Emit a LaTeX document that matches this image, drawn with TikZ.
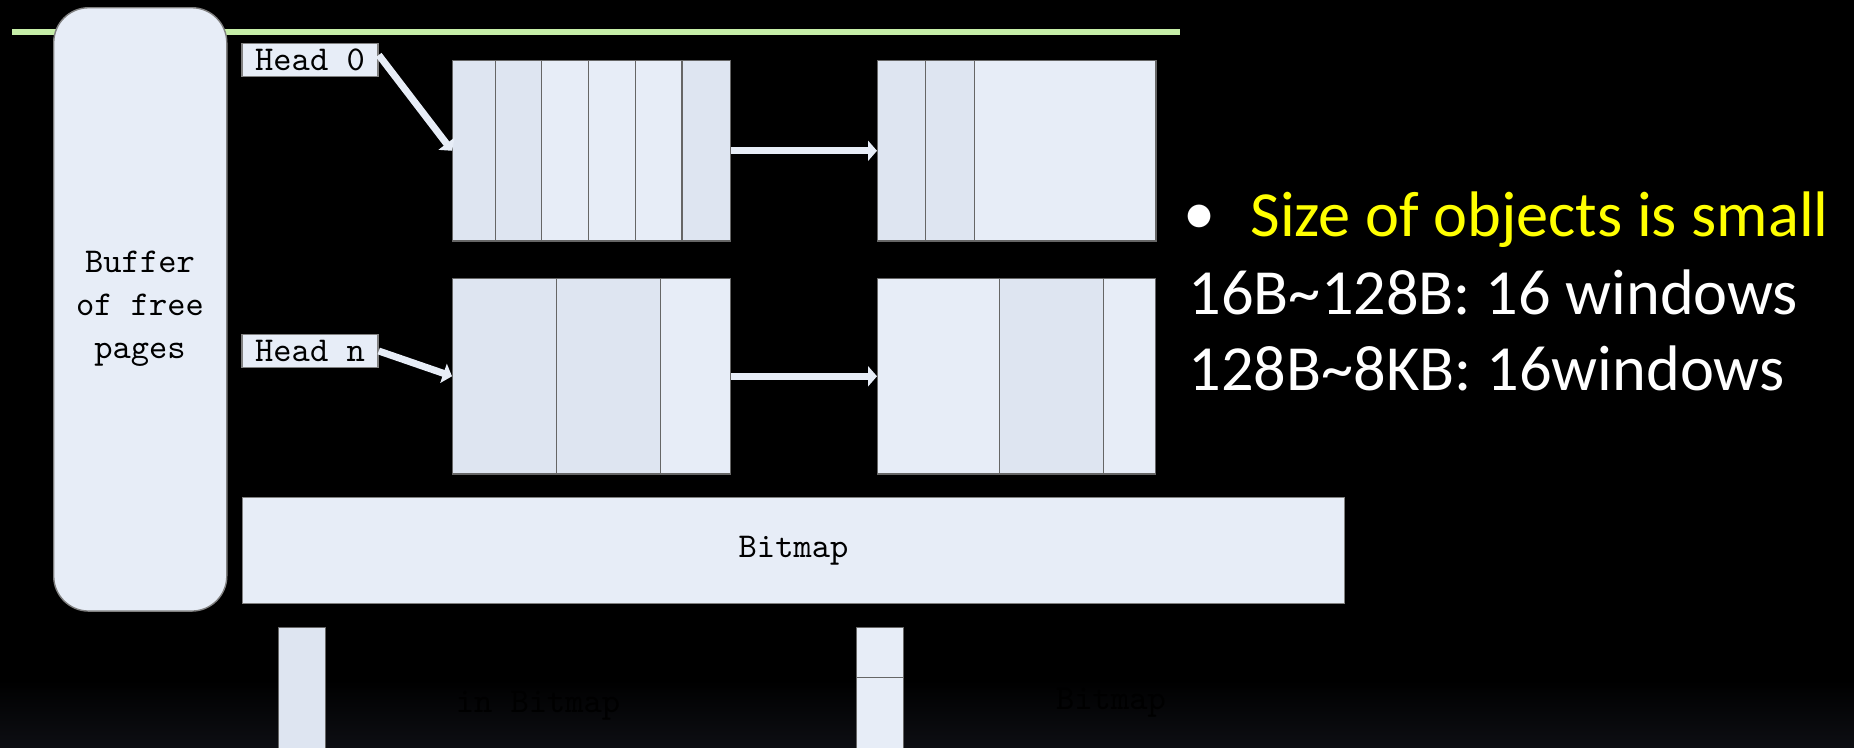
\documentclass[tikz,border=0pt]{standalone}
\usepackage{fontspec}
\usepackage{xcolor}
\usepackage{tikz}
\usetikzlibrary{arrows.meta,positioning}
\newfontfamily\slidefont{Carlito}
\definecolor{pagefill}{RGB}{231,237,247}
\definecolor{usedfill}{RGB}{222,229,241}
\definecolor{rulegreen}{RGB}{198,238,168}
\definecolor{bottomgray}{RGB}{13,14,19}
\definecolor{slideyellow}{RGB}{255,255,0}

\begin{document}
\begin{tikzpicture}[x=0.01cm,y=-0.01cm,
        cell/.style={draw=black!60,fill=pagefill,inner sep=0pt,anchor=north west},
        used/.style={cell,fill=usedfill},
        toprow/.style={minimum height=1.8cm},
        botrow/.style={minimum height=1.95cm},
        label/.style={font=\ttfamily\fontsize{9.9}{12.2}\selectfont,text=black},
        headbox/.style={label,draw=black!50,fill=pagefill,minimum width=1.36cm,minimum height=0.33cm,inner sep=0pt},
        link/.style={draw=pagefill,line width=0.07cm,-{Triangle[width=0.2cm,length=0.09cm]}},
        slide/.style={font=\slidefont\fontsize{18.3}{22}\selectfont,anchor=base west,inner sep=0pt}]
      \clip (0,0) rectangle (1854,747);
      \fill[black] (0,0) rectangle (1854,747);
      \shade[top color=black,bottom color=bottomgray] (0,680) rectangle (1854,747);
      \draw[rulegreen,line width=0.06cm] (12,32) -- (1180,32);
      \node[draw=black!50,fill=pagefill,rounded corners=0.35cm,minimum width=1.73cm,minimum height=6.03cm,
            anchor=north west,inner sep=0pt] (buffer) at (53,7) {};
      \node[label,align=center] (buftext) at (140,309) {Buffer\\of free\\pages};
      \node[headbox] (head0) at (310,60) {Head 0};
      \node[headbox] (headn) at (310,351) {Head n};
      \node[used,toprow,minimum width=0.43cm] (a1) at (452,60) {};
      \node[used,toprow,minimum width=0.46cm] (a2) at (495,60) {};
      \node[cell,toprow,minimum width=0.47cm] (a3) at (541,60) {};
      \node[cell,toprow,minimum width=0.47cm] (a4) at (588,60) {};
      \node[cell,toprow,minimum width=0.46cm] (a5) at (635,60) {};
      \node[used,toprow,minimum width=0.48cm] (a6) at (682,60) {};
      \node[used,toprow,minimum width=0.48cm] (b1) at (877,60) {};
      \node[used,toprow,minimum width=0.49cm] (b2) at (925,60) {};
      \node[cell,toprow,minimum width=1.81cm] (b3) at (974,60) {};
      \node[used,botrow,minimum width=1.04cm] (c1) at (452,278) {};
      \node[used,botrow,minimum width=1.04cm] (c2) at (556,278) {};
      \node[cell,botrow,minimum width=0.70cm] (c3) at (660,278) {};
      \node[cell,botrow,minimum width=1.22cm] (d1) at (877,278) {};
      \node[used,botrow,minimum width=1.04cm] (d2) at (999,278) {};
      \node[cell,botrow,minimum width=0.52cm] (d3) at (1103,278) {};
      \draw[link] (a6.east) -- (b1.west);
      \draw[link] (c3.east) -- (d1.west);
      \draw[link] ([yshift=0.05cm]head0.east) -- (a1.west);
      \draw[link] (headn.east) -- (c1.west);
      \node[cell,draw=black!50,minimum width=11.01cm,minimum height=1.06cm] (bitmap) at (242,497) {};
      \node[label] (bittext) at (bitmap.center) {Bitmap};
      \node[used,minimum width=0.47cm,minimum height=1.4cm] (bitA) at (278,627) {};
      \node[cell,minimum width=0.47cm,minimum height=0.5cm] (bitB) at (856,627) {};
      \node[cell,minimum width=0.47cm,minimum height=0.9cm] (bitC) at (856,677) {};
      \node[label,text=black] (inbit) at (538,706) {in Bitmap};
      \node[label,text=black] (bitright) at (1111,703) {Bitmap};
      \node[slide,text=white,anchor=center] (dot) at (1200,220) {\textbullet};
      \node[slide,text=slideyellow] (sizeline) at (1250,236) {Size of objects is small};
      \node[slide,text=white] (smallwin) at (1188,314) {16B\char"7E 128B: 16 windows};
      \node[slide,text=white] (largewin) at (1188,390) {128B\char"7E 8KB: 16windows};
    \end{tikzpicture}
\end{document}
